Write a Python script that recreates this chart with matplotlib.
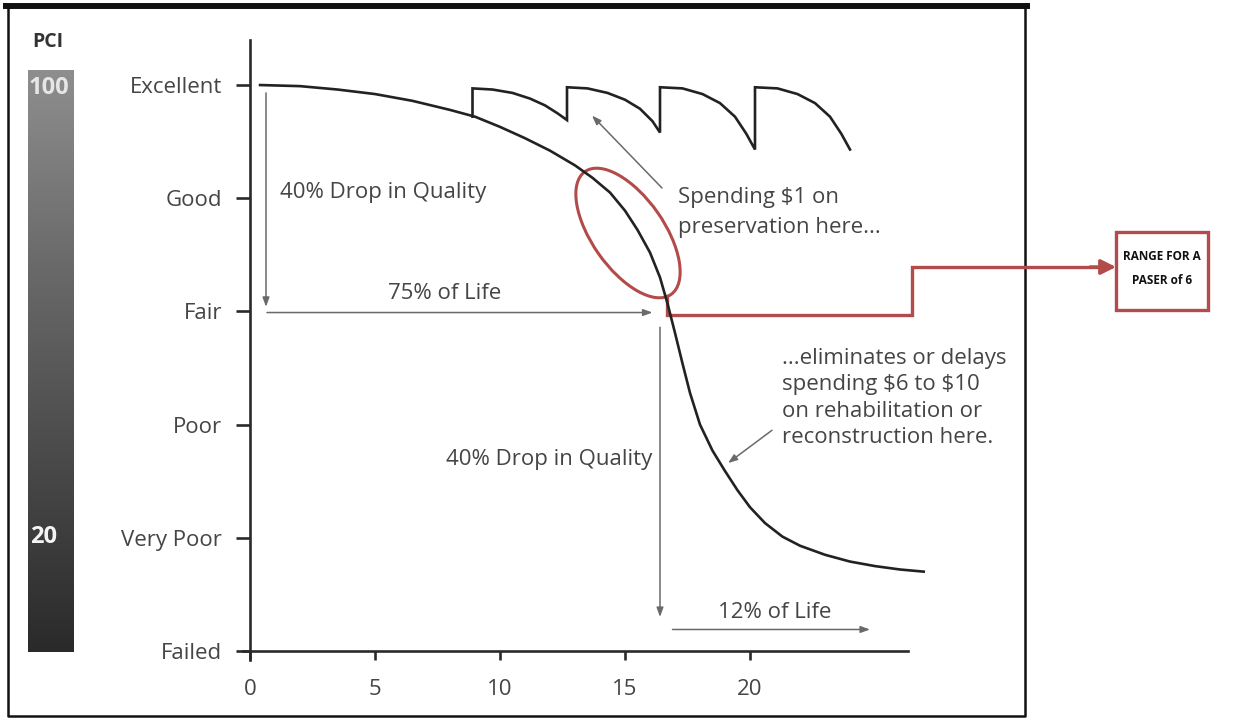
import numpy as np
import matplotlib
matplotlib.use('Agg')
import matplotlib.pyplot as plt
from matplotlib.patches import Ellipse, Rectangle
from matplotlib.colors import LinearSegmentedColormap

plt.rcParams['font.family'] = ['Open Sans', 'DejaVu Sans']

# condition levels (y) and age ticks (x)
levels = ['Failed', 'Very Poor', 'Poor', 'Fair', 'Good', 'Excellent']
years = [0, 5, 10, 15, 20]

# pavement deterioration curve (years, condition level)
curve_x = [0.35, 2.0, 3.5, 5.0, 6.5, 8.0, 9.0, 10.0, 11.0, 12.0, 13.0, 13.7, 14.4,
           15.0, 15.5, 16.0, 16.4, 16.7, 17.0, 17.3, 17.6, 18.0, 18.5, 19.0, 19.5,
           20.0, 20.6, 21.3, 22.0, 23.0, 24.0, 25.0, 26.0, 27.0]
curve_y = [5.0, 4.99, 4.96, 4.92, 4.86, 4.78, 4.72, 4.63, 4.53, 4.42, 4.29, 4.18, 4.05,
           3.89, 3.72, 3.52, 3.30, 3.07, 2.81, 2.54, 2.28, 2.00, 1.77, 1.59, 1.42,
           1.27, 1.13, 1.01, 0.93, 0.85, 0.79, 0.75, 0.72, 0.70]

# preservation saw-tooth (each treatment lifts the road back to excellent)
saw_x = [8.9, 8.9, 9.7, 10.5, 11.2, 11.8, 12.3, 12.68,
         12.68, 13.5, 14.3, 15.0, 15.6, 16.1, 16.4,
         16.4, 17.3, 18.1, 18.8, 19.4, 19.85, 20.2,
         20.2, 21.1, 21.9, 22.6, 23.2, 23.65, 24.0]
saw_y = [4.72, 4.97, 4.96, 4.93, 4.88, 4.82, 4.75, 4.69,
         4.98, 4.97, 4.93, 4.87, 4.79, 4.68, 4.58,
         4.98, 4.97, 4.92, 4.84, 4.72, 4.57, 4.43,
         4.98, 4.97, 4.92, 4.84, 4.72, 4.57, 4.43]

txt = '#454545'
arr = '#6a6a6a'
red = '#b44b4b'

W, H = 1244, 719
fig = plt.figure(figsize=(W / 100, H / 100), dpi=100)

# pixel overlay for the frame, PCI bar and callout box
ov = fig.add_axes([0, 0, 1, 1])
ov.set_xlim(0, W)
ov.set_ylim(H, 0)
ov.axis('off')

# main axes: x=0 at px 250, 25 px per year; y=0 at py 651, 113.2 px per level
x0, y0, px_x, px_y = 250, 651, 25.0, 113.2
xl = (-1.0, 28.0)
yl = (-0.45, 5.55)
left = (x0 + xl[0] * px_x) / W
width = (xl[1] - xl[0]) * px_x / W
bottom = (H - (y0 - yl[0] * px_y)) / H
height = (yl[1] - yl[0]) * px_y / H
ax = fig.add_axes([left, bottom, width, height])
ax.set_xlim(*xl)
ax.set_ylim(*yl)
ax.patch.set_alpha(0)

for s in ['top', 'right']:
    ax.spines[s].set_visible(False)
ax.spines['left'].set_position(('data', 0))
ax.spines['bottom'].set_position(('data', 0))
ax.spines['left'].set_bounds(-0.08, 5.4)
ax.spines['bottom'].set_bounds(-0.3, 26.3)
for s in ['left', 'bottom']:
    ax.spines[s].set_linewidth(1.9)
    ax.spines[s].set_color('#2a2a2a')

fs = 16
ax.set_yticks(range(len(levels)))
ax.set_yticklabels(levels)
ax.set_xticks(years)
ax.tick_params(axis='y', direction='out', length=10, width=1.9, pad=10,
               labelsize=fs, labelcolor=txt, color='#2a2a2a')
ax.tick_params(axis='x', direction='out', length=6.5, width=1.9, pad=14,
               labelsize=fs, labelcolor=txt, color='#2a2a2a')

ax.plot(curve_x, curve_y, color='#222222', lw=1.9, solid_capstyle='butt')
ax.plot(saw_x, saw_y, color='#222222', lw=1.9, solid_joinstyle='miter')

ap = dict(arrowstyle='-|>,head_length=0.55,head_width=0.2', color=arr, lw=1.1,
          shrinkA=0, shrinkB=0)
ax.annotate('', xy=(0.64, 3.04), xytext=(0.64, 4.93), arrowprops=ap)
ax.annotate('', xy=(16.1, 2.99), xytext=(0.68, 2.99), arrowprops=ap)
ax.annotate('', xy=(16.4, 0.30), xytext=(16.4, 2.86), arrowprops=ap)
ax.annotate('', xy=(24.8, 0.19), xytext=(16.9, 0.19), arrowprops=ap)
ax.annotate('', xy=(13.68, 4.73), xytext=(16.48, 4.09), arrowprops=ap)
ax.annotate('', xy=(19.12, 1.66), xytext=(20.88, 1.95), arrowprops=ap)

ax.text(1.2, 4.05, '40% Drop in Quality', fontsize=fs, color=txt, va='center')
ax.text(7.8, 3.16, '75% of Life', fontsize=fs, color=txt, va='center', ha='center')
ax.text(17.1, 4.01, 'Spending \\$1 on', fontsize=fs, color=txt, va='center')
ax.text(17.1, 3.74, 'preservation here...', fontsize=fs, color=txt, va='center')
for i, line in enumerate(['...eliminates or delays', 'spending \\$6 to \\$10',
                          'on rehabilitation or', 'reconstruction here.']):
    ax.text(21.3, 2.58 - i * 0.23, line, fontsize=fs, color=txt, va='center')
ax.text(16.1, 1.69, '40% Drop in Quality', fontsize=fs, color=txt, va='center', ha='right')
ax.text(18.7, 0.34, '12% of Life', fontsize=fs, color=txt, va='center')

# outer frame
ov.plot([8, 8, 1025, 1025, 8], [6, 716, 716, 6, 6], color='#111111', lw=1.8)
ov.plot([6, 1027], [6, 6], color='#111111', lw=4.3)

# PCI gradient bar
cmap = LinearSegmentedColormap.from_list('pci', ['#8e8e8e', '#6a6a6a', '#4a4a4a', '#2a2a2a'])
ov.imshow(np.linspace(0, 1, 256).reshape(-1, 1), cmap=cmap, aspect='auto',
          extent=(28, 74, 652, 70), zorder=1)
ov.text(48, 42, 'PCI', fontsize=14, fontweight='bold', color='#333333', ha='center', va='center')
ov.text(29, 88, '100', fontsize=17, fontweight='bold', color='#e6e6e6', va='center')
ov.text(30, 537, '20', fontsize=17, fontweight='bold', color='#f4f4f4', va='center')

# red callout
ov.add_patch(Ellipse((628, 233), width=150, height=72, angle=55, fill=False,
                     edgecolor=red, lw=2.2, zorder=5))
ov.plot([667, 667, 912, 912, 1100], [296, 315, 315, 267, 267], color=red, lw=2.4,
        solid_joinstyle='miter', zorder=5)
ov.annotate('', xy=(1116, 267), xytext=(1090, 267),
            arrowprops=dict(arrowstyle='-|>,head_length=0.9,head_width=0.45', color=red,
                            lw=2.4, shrinkA=0, shrinkB=0), zorder=5)
ov.add_patch(Rectangle((1116, 232), 92, 78, fill=False, edgecolor=red, lw=2.4, zorder=5))
ov.text(1162, 256, 'RANGE FOR A', fontsize=8.5, fontweight='bold', color='#111111',
        ha='center', va='center')
ov.text(1162, 280, 'PASER of 6', fontsize=8.5, fontweight='bold', color='#111111',
        ha='center', va='center')

fig.savefig('out.png', dpi=100)
